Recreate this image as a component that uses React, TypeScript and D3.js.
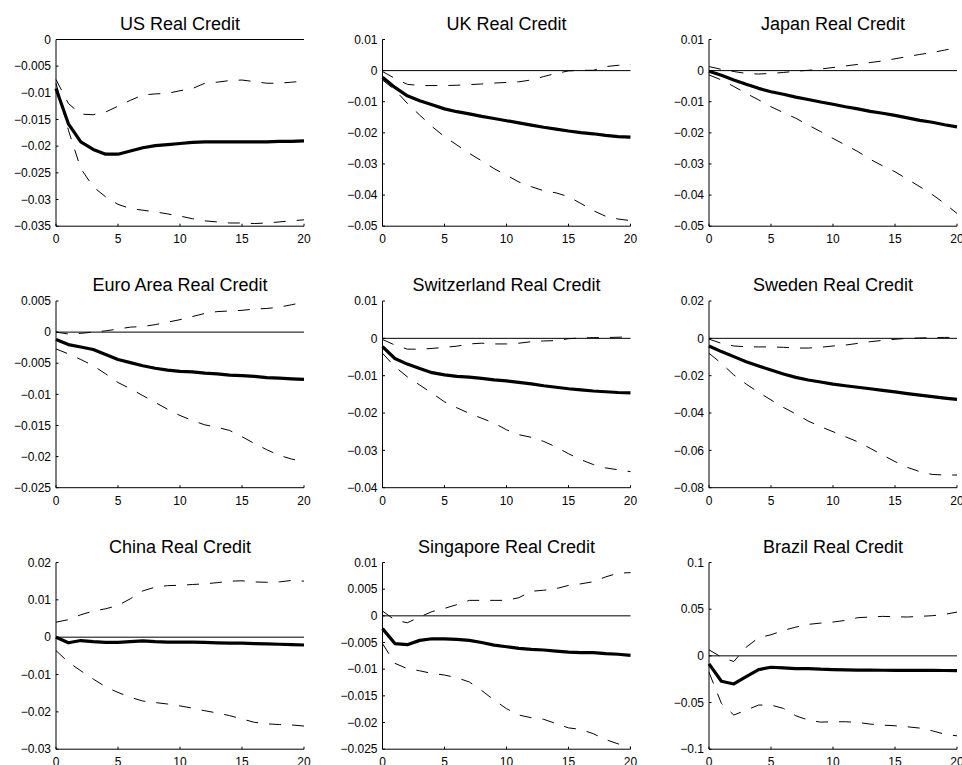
import React from "react";
import * as d3 from "d3";

// ---------- data ----------
const HORIZONS = [0, 1, 2, 3, 4, 5, 6, 7, 8, 9, 10, 11, 12, 13, 14, 15, 16, 17, 18, 19, 20];
const X_TICKS = [0, 5, 10, 15, 20];

const TITLES = [
  "US Real Credit",
  "UK Real Credit",
  "Japan Real Credit",
  "Euro Area Real Credit",
  "Switzerland Real Credit",
  "Sweden Real Credit",
  "China Real Credit",
  "Singapore Real Credit",
  "Brazil Real Credit",
];

const Y_TICKS = [
  [-0.035, -0.03, -0.025, -0.02, -0.015, -0.01, -0.005, 0],
  [-0.05, -0.04, -0.03, -0.02, -0.01, 0, 0.01],
  [-0.05, -0.04, -0.03, -0.02, -0.01, 0, 0.01],
  [-0.025, -0.02, -0.015, -0.01, -0.005, 0, 0.005],
  [-0.04, -0.03, -0.02, -0.01, 0, 0.01],
  [-0.08, -0.06, -0.04, -0.02, 0, 0.02],
  [-0.03, -0.02, -0.01, 0, 0.01, 0.02],
  [-0.025, -0.02, -0.015, -0.01, -0.005, 0, 0.005, 0.01],
  [-0.1, -0.05, 0, 0.05, 0.1],
];

// US
const usMid = [-0.0092, -0.0158, -0.0192, -0.0206, -0.0215, -0.0215, -0.0209, -0.0203, -0.0199, -0.0197, -0.0195, -0.0193, -0.0192, -0.0192, -0.0192, -0.0192, -0.0192, -0.0192, -0.0191, -0.0191, -0.019];
const usUpper = [-0.0075, -0.012, -0.014, -0.0141, -0.0136, -0.0125, -0.0114, -0.0104, -0.0102, -0.0101, -0.0096, -0.0092, -0.0082, -0.008, -0.0077, -0.0076, -0.0079, -0.0082, -0.0082, -0.008, -0.0078];
const usLower = [-0.0082, -0.017, -0.0242, -0.0276, -0.0295, -0.0309, -0.0317, -0.032, -0.0323, -0.0327, -0.0331, -0.0336, -0.034, -0.0342, -0.0344, -0.0344, -0.0345, -0.0344, -0.0342, -0.034, -0.0338];
// UK
const ukMid = [-0.0021, -0.0054, -0.0081, -0.0097, -0.011, -0.0123, -0.0132, -0.0139, -0.0147, -0.0154, -0.0161, -0.0168, -0.0175, -0.0182, -0.0188, -0.0194, -0.0199, -0.0203, -0.0208, -0.0212, -0.0214];
const ukUpper = [-0.0003, -0.0025, -0.0044, -0.0048, -0.0048, -0.0048, -0.0047, -0.0045, -0.0043, -0.004, -0.0038, -0.0036, -0.003, -0.0019, -0.0009, -0.0001, 0.0001, 0.0001, 0.0013, 0.0017, 0.002];
const ukLower = [-0.003, -0.0062, -0.0105, -0.0143, -0.018, -0.0212, -0.0239, -0.0266, -0.029, -0.0315, -0.0336, -0.0358, -0.0373, -0.0386, -0.0393, -0.0405, -0.0427, -0.045, -0.0468, -0.0477, -0.0482];
// Japan
const jpMid = [-0.0002, -0.0015, -0.003, -0.0044, -0.0057, -0.0068, -0.0076, -0.0085, -0.0093, -0.0101, -0.0108, -0.0116, -0.0123, -0.0131, -0.0137, -0.0144, -0.0152, -0.016, -0.0166, -0.0174, -0.0181];
const jpUpper = [0.0013, 0.0004, -0.0003, -0.0009, -0.0011, -0.0009, -0.0006, -0.0002, 0.0001, 0.0005, 0.001, 0.0015, 0.002, 0.0026, 0.0031, 0.0038, 0.0045, 0.0052, 0.0058, 0.0066, 0.0074];
const jpLower = [-0.0014, -0.003, -0.0051, -0.0073, -0.0094, -0.0116, -0.0135, -0.0153, -0.0175, -0.0196, -0.0218, -0.0239, -0.026, -0.0285, -0.0306, -0.0325, -0.0349, -0.0373, -0.0398, -0.0427, -0.0459];
// Euro Area
const euMid = [-0.0012, -0.002, -0.0024, -0.0028, -0.0036, -0.0044, -0.0049, -0.0054, -0.0058, -0.0061, -0.0063, -0.0064, -0.0066, -0.0067, -0.0069, -0.007, -0.0071, -0.0073, -0.0074, -0.0075, -0.0076];
const euUpper = [0, -0.0003, -0.0002, 0, 0.0002, 0.0005, 0.0008, 0.0009, 0.0012, 0.0016, 0.002, 0.0025, 0.003, 0.0033, 0.0034, 0.0035, 0.0037, 0.0038, 0.004, 0.0044, 0.0048];
const euLower = [-0.0027, -0.0035, -0.0044, -0.0054, -0.0067, -0.0081, -0.0091, -0.0102, -0.0113, -0.0124, -0.0134, -0.0142, -0.0149, -0.0153, -0.0158, -0.0168, -0.0179, -0.0189, -0.0198, -0.0204, -0.0208];
// Switzerland
const chMid = [-0.0022, -0.0054, -0.0069, -0.0081, -0.0092, -0.0098, -0.0102, -0.0104, -0.0107, -0.0111, -0.0114, -0.0118, -0.0122, -0.0127, -0.0131, -0.0135, -0.0138, -0.0141, -0.0143, -0.0145, -0.0146];
const chUpper = [-0.0003, -0.0018, -0.0029, -0.0029, -0.0027, -0.0024, -0.0021, -0.0015, -0.0013, -0.0015, -0.0015, -0.0013, -0.0009, -0.0007, -0.0006, -0.0001, 0.0001, 0.0002, 0.0002, 0.0003, 0.0004];
const chLower = [-0.004, -0.0076, -0.0103, -0.0125, -0.0147, -0.017, -0.0186, -0.0201, -0.0214, -0.0227, -0.0245, -0.0258, -0.0265, -0.0276, -0.0291, -0.0309, -0.0325, -0.0338, -0.0347, -0.0352, -0.0357];
// Sweden
const seMid = [-0.0041, -0.0071, -0.0098, -0.0125, -0.0148, -0.017, -0.0191, -0.0209, -0.0223, -0.0234, -0.0245, -0.0254, -0.0262, -0.027, -0.0279, -0.0287, -0.0296, -0.0304, -0.0312, -0.032, -0.0327];
const seUpper = [-0.0004, -0.0027, -0.0041, -0.0045, -0.0046, -0.0046, -0.0048, -0.0052, -0.0052, -0.0048, -0.0041, -0.0036, -0.0027, -0.0018, -0.0011, -0.0005, 0, 0.0002, 0.0004, 0.0005, 0.0005];
const seLower = [-0.008, -0.0134, -0.0196, -0.0245, -0.0289, -0.033, -0.037, -0.0405, -0.0443, -0.0473, -0.05, -0.0527, -0.0554, -0.0589, -0.0625, -0.066, -0.0691, -0.0714, -0.0729, -0.0732, -0.0732];
// China
const cnMid = [0, -0.0015, -0.0009, -0.0012, -0.0014, -0.0014, -0.0012, -0.001, -0.0012, -0.0013, -0.0013, -0.0013, -0.0014, -0.0015, -0.0016, -0.0016, -0.0017, -0.0018, -0.0019, -0.002, -0.0021];
const cnUpper = [0.004, 0.0047, 0.006, 0.007, 0.0076, 0.0085, 0.0103, 0.0124, 0.0134, 0.0138, 0.0139, 0.0141, 0.0143, 0.0146, 0.015, 0.0151, 0.0148, 0.0147, 0.0148, 0.0152, 0.015];
const cnLower = [-0.0036, -0.0067, -0.009, -0.0112, -0.0133, -0.0148, -0.0161, -0.0171, -0.0175, -0.0179, -0.0184, -0.019, -0.0197, -0.0203, -0.021, -0.0219, -0.0228, -0.0232, -0.0234, -0.0235, -0.0238];
// Singapore
const sgMid = [-0.0024, -0.0052, -0.0054, -0.0046, -0.0043, -0.0043, -0.0044, -0.0046, -0.005, -0.0055, -0.0058, -0.0061, -0.0063, -0.0064, -0.0066, -0.0068, -0.0069, -0.0069, -0.0071, -0.0072, -0.0074];
const sgUpper = [0.0009, -0.0008, -0.0013, -0.0002, 0.0008, 0.0014, 0.0021, 0.0029, 0.0029, 0.0029, 0.0029, 0.0034, 0.0046, 0.0048, 0.0051, 0.0057, 0.006, 0.0064, 0.0073, 0.008, 0.0081];
const sgLower = [-0.0052, -0.0089, -0.0099, -0.0103, -0.0108, -0.0111, -0.0116, -0.0124, -0.014, -0.0158, -0.0174, -0.0186, -0.0191, -0.0194, -0.0202, -0.021, -0.0213, -0.0221, -0.0232, -0.024, -0.0246];
// Brazil
const brMid = [-0.0086, -0.0272, -0.0301, -0.0222, -0.0147, -0.0122, -0.0129, -0.0136, -0.0136, -0.0143, -0.0147, -0.015, -0.0152, -0.0153, -0.0154, -0.0155, -0.0155, -0.0156, -0.0156, -0.0157, -0.0158];
const brUpper = [0.0065, -0.0014, -0.0061, 0.0093, 0.0194, 0.0226, 0.0272, 0.0308, 0.0337, 0.0351, 0.0362, 0.038, 0.0409, 0.0416, 0.0423, 0.0419, 0.0416, 0.0423, 0.043, 0.0444, 0.0469];
const brLower = [-0.0176, -0.0509, -0.0634, -0.0581, -0.0527, -0.0527, -0.0563, -0.0642, -0.0688, -0.071, -0.0706, -0.0706, -0.0713, -0.0731, -0.0742, -0.0749, -0.076, -0.0774, -0.0803, -0.0839, -0.0857];

const MIDS = [usMid, ukMid, jpMid, euMid, chMid, seMid, cnMid, sgMid, brMid];
const UPPERS = [usUpper, ukUpper, jpUpper, euUpper, chUpper, seUpper, cnUpper, sgUpper, brUpper];
const LOWERS = [usLower, ukLower, jpLower, euLower, chLower, seLower, cnLower, sgLower, brLower];

// ---------- layout ----------
const WIDTH = 962;
const HEIGHT = 765;
const COL_LEFT = [56, 382.5, 709];
const ROW_TOP = [39.5, 301, 562.5];
const PW = 248;
const PH = 186.7;
const FONT = "'Liberation Sans', Arial, Helvetica, sans-serif";

const fmt = d3.format("~g");

function Panel({ idx }: { idx: number }) {
  const left = COL_LEFT[idx % 3];
  const top = ROW_TOP[Math.floor(idx / 3)];
  const ticks = Y_TICKS[idx];
  const x = d3.scaleLinear().domain([0, 20]).range([left, left + PW]);
  const y = d3
    .scaleLinear()
    .domain([ticks[0], ticks[ticks.length - 1]])
    .range([top + PH, top]);
  const line = d3
    .line<number>()
    .x((_, i) => x(HORIZONS[i]))
    .y((d) => y(d));
  const bottom = top + PH;
  return (
    <g>
      <text
        x={left + PW / 2}
        y={top - 10}
        textAnchor="middle"
        fontSize={18}
        fontFamily={FONT}
        fill="#000"
      >
        {TITLES[idx]}
      </text>
      {/* zero line */}
      <line x1={x(0)} x2={x(20)} y1={y(0)} y2={y(0)} stroke="#000" strokeWidth={1} />
      {/* bands */}
      <path d={line(UPPERS[idx]) || ""} fill="none" stroke="#000" strokeWidth={1} strokeDasharray="12,11" />
      <path d={line(LOWERS[idx]) || ""} fill="none" stroke="#000" strokeWidth={1} strokeDasharray="12,11" />
      {/* median */}
      <path d={line(MIDS[idx]) || ""} fill="none" stroke="#000" strokeWidth={3.2} strokeLinejoin="round" />
      {/* axes */}
      <line x1={left} x2={left} y1={top} y2={bottom} stroke="#000" strokeWidth={1} />
      <line x1={left} x2={left + PW} y1={bottom} y2={bottom} stroke="#000" strokeWidth={1} />
      {ticks.map((t) => (
        <g key={"y" + t}>
          <line x1={left} x2={left + 2.5} y1={y(t)} y2={y(t)} stroke="#000" strokeWidth={1} />
          <text
            x={left - 5}
            y={y(t)}
            dy="0.35em"
            textAnchor="end"
            fontSize={12}
            fontFamily={FONT}
            fill="#000"
          >
            {fmt(t)}
          </text>
        </g>
      ))}
      {X_TICKS.map((t) => (
        <g key={"x" + t}>
          <line x1={x(t)} x2={x(t)} y1={bottom} y2={bottom - 2.5} stroke="#000" strokeWidth={1} />
          <text
            x={x(t)}
            y={bottom + 17}
            textAnchor="middle"
            fontSize={12}
            fontFamily={FONT}
            fill="#000"
          >
            {fmt(t)}
          </text>
        </g>
      ))}
    </g>
  );
}

export default function App() {
  return (
    <svg
      width={WIDTH}
      height={HEIGHT}
      viewBox={`0 0 ${WIDTH} ${HEIGHT}`}
      style={{ position: "absolute", left: 0, top: 0, background: "#fff", overflow: "hidden" }}
    >
      <rect x={0} y={0} width={WIDTH} height={HEIGHT} fill="#fff" />
      {TITLES.map((_, i) => (
        <Panel key={i} idx={i} />
      ))}
    </svg>
  );
}
